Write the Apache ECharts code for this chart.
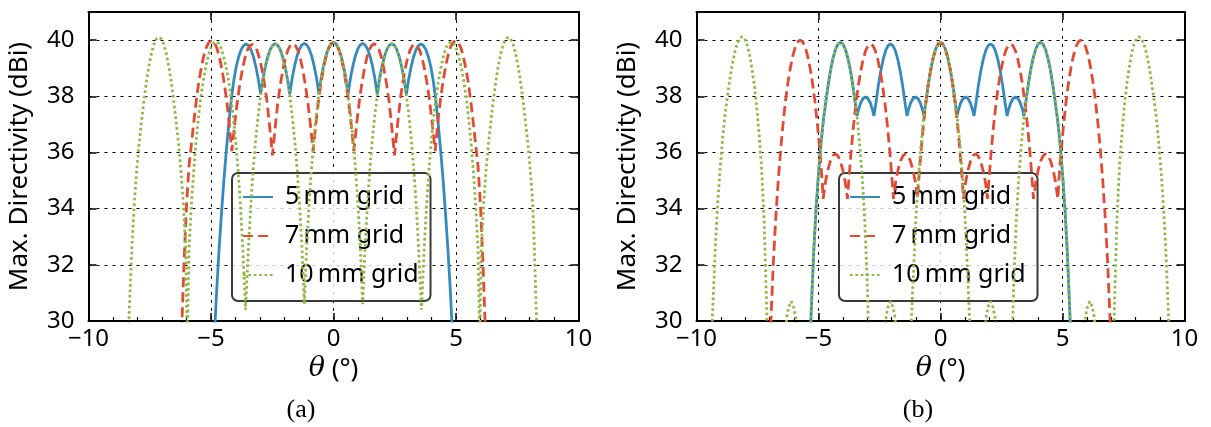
<!DOCTYPE html>
<html>
<head>
<meta charset="utf-8">
<script src="https://cdn.jsdelivr.net/npm/echarts@6/dist/echarts.min.js"></script>
<style>
  html, body { margin: 0; padding: 0; background: #fff; }
  #chart { width: 1211px; height: 427px; }
</style>
</head>
<body>
<div id="chart"></div>
<script>
// Series labels and tick labels
const seriesNames = ['5\u2009mm grid', '7\u2009mm grid', '10\u2009mm grid'];
const xTickLabels = { '-10': '\u221210', '-5': '\u22125', '0': '0', '5': '5', '10': '10' };
const yTickLabels = ['30', '32', '34', '36', '38', '40'];
const panelLabels = ['(a)', '(b)'];

// Max. directivity (dBi) versus steering angle theta (deg), panel (a)
const a5mm = [[-4.87,29.3],[-4.77,31.06],[-4.67,32.56],[-4.57,33.86],[-4.47,35.06],[-4.37,36.11],[-4.27,37.06],[-4.17,37.91],[-4.07,38.56],[-3.97,39.06],[-3.87,39.41],[-3.77,39.66],[-3.67,39.81],[-3.57,39.86],[-3.47,39.81],[-3.37,39.66],[-3.27,39.41],[-3.17,39.06],[-3.07,38.61],[-2.975,38.08],
[-2.88,38.62],[-2.78,39.07],[-2.68,39.42],[-2.58,39.67],[-2.48,39.82],[-2.38,39.87],[-2.28,39.82],[-2.18,39.67],[-2.08,39.42],[-1.98,39.07],[-1.88,38.62],[-1.785,38.08],
[-1.69,38.63],[-1.59,39.08],[-1.49,39.43],[-1.39,39.68],[-1.29,39.83],[-1.19,39.88],[-1.09,39.83],[-0.99,39.68],[-0.89,39.43],[-0.79,39.08],[-0.69,38.63],[-0.595,38.08],
[-0.5,38.67],[-0.4,39.12],[-0.3,39.47],[-0.2,39.72],[-0.1,39.87],[0,39.92],[0.1,39.87],[0.2,39.72],[0.3,39.47],[0.4,39.12],[0.5,38.67],[0.595,38.08],
[0.69,38.63],[0.79,39.08],[0.89,39.43],[0.99,39.68],[1.09,39.83],[1.19,39.88],[1.29,39.83],[1.39,39.68],[1.49,39.43],[1.59,39.08],[1.69,38.63],[1.785,38.08],
[1.88,38.62],[1.98,39.07],[2.08,39.42],[2.18,39.67],[2.28,39.82],[2.38,39.87],[2.48,39.82],[2.58,39.67],[2.68,39.42],[2.78,39.07],[2.88,38.62],[2.975,38.08],
[3.07,38.61],[3.17,39.06],[3.27,39.41],[3.37,39.66],[3.47,39.81],[3.57,39.86],[3.67,39.81],[3.77,39.66],[3.87,39.41],[3.97,39.06],[4.07,38.56],[4.17,37.91],[4.27,37.06],[4.37,36.11],[4.47,35.06],[4.57,33.86],[4.67,32.56],[4.77,31.06],[4.87,29.3]];

const a7mm = [[-6.2,29.6],[-6.1,32.1],[-6.0,34.1],[-5.9,35.5],[-5.8,36.3],[-5.7,37.1],[-5.6,37.85],[-5.5,38.5],[-5.4,39.0],[-5.3,39.42],[-5.2,39.72],[-5.1,39.9],[-4.98,39.98],[-4.88,39.92],[-4.78,39.76],[-4.68,39.48],[-4.58,39.08],[-4.48,38.58],[-4.38,37.98],[-4.28,37.24],[-4.15,36.05],
[-4.02,37.11],[-3.92,37.85],[-3.82,38.45],[-3.72,38.95],[-3.62,39.35],[-3.52,39.63],[-3.42,39.79],[-3.32,39.85],[-3.22,39.79],[-3.12,39.63],[-3.02,39.35],[-2.92,38.95],[-2.82,38.45],[-2.72,37.85],[-2.62,37.05],[-2.49,35.9],
[-2.36,37.07],[-2.26,37.87],[-2.16,38.47],[-2.06,38.97],[-1.96,39.37],[-1.86,39.65],[-1.76,39.81],[-1.66,39.87],[-1.56,39.81],[-1.46,39.65],[-1.36,39.37],[-1.26,38.97],[-1.16,38.47],[-1.06,37.87],[-0.96,37.13],[-0.83,36.05],
[-0.7,37.18],[-0.6,37.92],[-0.5,38.52],[-0.4,39.02],[-0.3,39.42],[-0.2,39.7],[-0.1,39.86],[0,39.92],[0.1,39.86],[0.2,39.7],[0.3,39.42],[0.4,39.02],[0.5,38.52],[0.6,37.92],[0.7,37.18],
[0.83,36.05],[0.96,37.13],[1.06,37.87],[1.16,38.47],[1.26,38.97],[1.36,39.37],[1.46,39.65],[1.56,39.81],[1.66,39.87],[1.76,39.81],[1.86,39.65],[1.96,39.37],[2.06,38.97],[2.16,38.47],[2.26,37.87],[2.36,37.07],
[2.49,35.9],[2.62,37.05],[2.72,37.85],[2.82,38.45],[2.92,38.95],[3.02,39.35],[3.12,39.63],[3.22,39.79],[3.32,39.85],[3.42,39.79],[3.52,39.63],[3.62,39.35],[3.72,38.95],[3.82,38.45],[3.92,37.85],[4.02,37.11],
[4.15,36.05],[4.28,37.24],[4.38,37.98],[4.48,38.58],[4.58,39.08],[4.68,39.48],[4.78,39.76],[4.88,39.92],[4.98,39.98],[5.1,39.9],[5.2,39.72],[5.3,39.42],[5.4,39.0],[5.5,38.5],[5.6,37.85],[5.7,37.1],[5.8,36.3],[5.9,35.5],[6.0,34.1],[6.1,32.1],[6.2,29.6]];

const a10mm = [[-8.38,29.3],[-8.33,30.5],[-8.23,32.6],[-8.13,34.2],[-8.03,35.4],[-7.93,36.35],[-7.83,37.15],[-7.73,37.9],[-7.63,38.55],[-7.53,39.1],[-7.43,39.53],[-7.33,39.85],[-7.23,40.04],[-7.13,40.1],[-7.03,40.04],[-6.93,39.85],[-6.83,39.53],[-6.73,39.1],[-6.63,38.55],[-6.53,37.9],[-6.43,37.15],[-6.33,36.35],[-6.23,35.4],[-6.13,34.2],[-6.03,32.6],[-5.97,29.0],
[-5.9,32.54],[-5.8,34.14],[-5.7,35.44],[-5.6,36.49],[-5.5,37.34],[-5.4,38.06],[-5.3,38.64],[-5.2,39.1],[-5.1,39.47],[-5.0,39.74],[-4.9,39.89],[-4.8,39.94],[-4.7,39.89],[-4.6,39.74],[-4.5,39.47],[-4.4,39.1],[-4.3,38.64],[-4.2,38.06],[-4.1,37.34],[-4.0,36.49],[-3.9,35.44],[-3.8,34.14],[-3.7,32.54],[-3.59,30.4],
[-3.48,32.47],[-3.38,34.07],[-3.28,35.37],[-3.18,36.42],[-3.08,37.27],[-2.98,37.99],[-2.88,38.57],[-2.78,39.03],[-2.68,39.4],[-2.58,39.67],[-2.48,39.82],[-2.38,39.87],[-2.28,39.82],[-2.18,39.67],[-2.08,39.4],[-1.98,39.03],[-1.88,38.57],[-1.78,37.99],[-1.68,37.27],[-1.58,36.42],[-1.48,35.37],[-1.38,34.07],[-1.28,32.47],[-1.19,30.6],
[-1.1,32.52],[-1.0,34.12],[-0.9,35.42],[-0.8,36.47],[-0.7,37.32],[-0.6,38.04],[-0.5,38.62],[-0.4,39.08],[-0.3,39.45],[-0.2,39.72],[-0.1,39.87],[0,39.92],[0.1,39.87],[0.2,39.72],[0.3,39.45],[0.4,39.08],[0.5,38.62],[0.6,38.04],[0.7,37.32],[0.8,36.47],[0.9,35.42],[1.0,34.12],[1.1,32.52],
[1.19,30.6],[1.28,32.47],[1.38,34.07],[1.48,35.37],[1.58,36.42],[1.68,37.27],[1.78,37.99],[1.88,38.57],[1.98,39.03],[2.08,39.4],[2.18,39.67],[2.28,39.82],[2.38,39.87],[2.48,39.82],[2.58,39.67],[2.68,39.4],[2.78,39.03],[2.88,38.57],[2.98,37.99],[3.08,37.27],[3.18,36.42],[3.28,35.37],[3.38,34.07],[3.48,32.47],
[3.59,30.4],[3.7,32.54],[3.8,34.14],[3.9,35.44],[4.0,36.49],[4.1,37.34],[4.2,38.06],[4.3,38.64],[4.4,39.1],[4.5,39.47],[4.6,39.74],[4.7,39.89],[4.8,39.94],[4.9,39.89],[5.0,39.74],[5.1,39.47],[5.2,39.1],[5.3,38.64],[5.4,38.06],[5.5,37.34],[5.6,36.49],[5.7,35.44],[5.8,34.14],[5.9,32.54],
[5.97,29.0],[6.03,32.6],[6.13,34.2],[6.23,35.4],[6.33,36.35],[6.43,37.15],[6.53,37.9],[6.63,38.55],[6.73,39.1],[6.83,39.53],[6.93,39.85],[7.03,40.04],[7.13,40.1],[7.23,40.04],[7.33,39.85],[7.43,39.53],[7.53,39.1],[7.63,38.55],[7.73,37.9],[7.83,37.15],[7.93,36.35],[8.03,35.4],[8.13,34.2],[8.2,32.6],[8.27,30.5],[8.32,29.3]];

// Panel (b)
const b5mm = [[-5.35,29.2],[-5.3,30.3],[-5.2,32.4],[-5.1,34.0],[-5.0,35.25],[-4.9,36.3],[-4.8,37.15],[-4.7,37.8],[-4.6,38.43],[-4.5,38.95],[-4.4,39.37],[-4.3,39.68],[-4.2,39.86],[-4.1,39.92],[-4.0,39.86],[-3.9,39.68],[-3.8,39.37],[-3.7,38.95],[-3.6,38.43],[-3.5,37.8],[-3.42,37.3],
[-3.375,37.48],[-3.275,37.76],[-3.175,37.92],[-3.075,37.98],[-2.975,37.92],[-2.875,37.76],[-2.775,37.48],[-2.73,37.3],
[-2.65,37.74],[-2.55,38.37],[-2.45,38.89],[-2.35,39.31],[-2.25,39.62],[-2.15,39.8],[-2.05,39.86],[-1.95,39.8],[-1.85,39.62],[-1.75,39.31],[-1.65,38.89],[-1.55,38.37],[-1.45,37.74],[-1.37,37.3],
[-1.325,37.48],[-1.225,37.76],[-1.125,37.92],[-1.025,37.98],[-0.925,37.92],[-0.825,37.76],[-0.725,37.48],[-0.68,37.3],
[-0.6,37.8],[-0.5,38.43],[-0.4,38.95],[-0.3,39.37],[-0.2,39.68],[-0.1,39.86],[0,39.92],[0.1,39.86],[0.2,39.68],[0.3,39.37],[0.4,38.95],[0.5,38.43],[0.6,37.8],
[0.68,37.3],[0.725,37.48],[0.825,37.76],[0.925,37.92],[1.025,37.98],[1.125,37.92],[1.225,37.76],[1.325,37.48],[1.37,37.3],
[1.45,37.74],[1.55,38.37],[1.65,38.89],[1.75,39.31],[1.85,39.62],[1.95,39.8],[2.05,39.86],[2.15,39.8],[2.25,39.62],[2.35,39.31],[2.45,38.89],[2.55,38.37],[2.65,37.74],
[2.73,37.3],[2.775,37.48],[2.875,37.76],[2.975,37.92],[3.075,37.98],[3.175,37.92],[3.275,37.76],[3.375,37.48],[3.42,37.3],
[3.5,37.8],[3.6,38.43],[3.7,38.95],[3.8,39.37],[3.9,39.68],[4.0,39.86],[4.1,39.92],[4.2,39.86],[4.3,39.68],[4.4,39.37],[4.5,38.95],[4.6,38.43],[4.7,37.8],[4.8,37.15],[4.9,36.3],[5.0,35.25],[5.1,34.0],[5.2,32.4],[5.3,30.3],[5.35,29.2]];

const b7mm = [[-6.99,29.3],[-6.95,30.0],[-6.85,32.1],[-6.75,33.7],[-6.65,35.0],[-6.55,36.1],[-6.45,37.05],[-6.35,37.85],[-6.25,38.5],[-6.15,39.03],[-6.05,39.45],[-5.95,39.76],[-5.85,39.94],[-5.75,40.0],[-5.65,39.94],[-5.55,39.76],[-5.45,39.45],[-5.35,39.03],[-5.25,38.5],[-5.15,37.85],[-5.05,37.05],[-4.95,36.1],[-4.85,35.0],[-4.81,34.35],
[-4.71,34.97],[-4.61,35.4],[-4.51,35.7],[-4.41,35.89],[-4.31,35.95],[-4.21,35.89],[-4.11,35.7],[-4.01,35.4],[-3.91,34.97],[-3.81,34.35],
[-3.77,34.86],[-3.67,35.96],[-3.57,36.91],[-3.47,37.71],[-3.37,38.36],[-3.27,38.89],[-3.17,39.31],[-3.07,39.62],[-2.97,39.8],[-2.87,39.86],[-2.77,39.8],[-2.67,39.62],[-2.57,39.31],[-2.47,38.89],[-2.37,38.36],[-2.27,37.71],[-2.17,36.91],[-2.07,35.96],[-1.97,34.86],[-1.93,34.35],
[-1.835,34.97],[-1.735,35.4],[-1.635,35.7],[-1.535,35.89],[-1.435,35.95],[-1.335,35.89],[-1.235,35.7],[-1.135,35.4],[-1.035,34.97],[-0.94,34.35],
[-0.9,34.92],[-0.8,36.02],[-0.7,36.97],[-0.6,37.77],[-0.5,38.42],[-0.4,38.95],[-0.3,39.37],[-0.2,39.68],[-0.1,39.86],[0,39.92],[0.1,39.86],[0.2,39.68],[0.3,39.37],[0.4,38.95],[0.5,38.42],[0.6,37.77],[0.7,36.97],[0.8,36.02],[0.9,34.92],
[0.94,34.35],[1.035,34.97],[1.135,35.4],[1.235,35.7],[1.335,35.89],[1.435,35.95],[1.535,35.89],[1.635,35.7],[1.735,35.4],[1.835,34.97],[1.93,34.35],
[1.97,34.86],[2.07,35.96],[2.17,36.91],[2.27,37.71],[2.37,38.36],[2.47,38.89],[2.57,39.31],[2.67,39.62],[2.77,39.8],[2.87,39.86],[2.97,39.8],[3.07,39.62],[3.17,39.31],[3.27,38.89],[3.37,38.36],[3.47,37.71],[3.57,36.91],[3.67,35.96],[3.77,34.86],[3.81,34.35],
[3.91,34.97],[4.01,35.4],[4.11,35.7],[4.21,35.89],[4.31,35.95],[4.41,35.89],[4.51,35.7],[4.61,35.4],[4.71,34.97],[4.81,34.35],
[4.85,35.0],[4.95,36.1],[5.05,37.05],[5.15,37.85],[5.25,38.5],[5.35,39.03],[5.45,39.45],[5.55,39.76],[5.65,39.94],[5.75,40.0],[5.85,39.94],[5.95,39.76],[6.05,39.45],[6.15,39.03],[6.25,38.5],[6.35,37.85],[6.45,37.05],[6.55,36.1],[6.65,35.0],[6.75,33.7],[6.85,32.1],[6.95,30.0],[6.99,29.3]];

const b10mm = [[-9.38,29.4],[-9.33,30.5],[-9.23,32.6],[-9.13,34.2],[-9.03,35.45],[-8.93,36.5],[-8.83,37.35],[-8.73,38.0],[-8.63,38.63],[-8.53,39.15],[-8.43,39.57],[-8.33,39.88],[-8.23,40.06],[-8.13,40.12],[-8.03,40.05],[-7.93,39.85],[-7.83,39.5],[-7.73,39.0],[-7.63,38.4],[-7.53,37.6],[-7.43,36.6],[-7.33,35.4],[-7.23,33.6],[-7.13,30.6],[-7.09,29.3],
[-6.36,29.5],[-6.3,30.15],[-6.22,30.5],[-6.12,30.7],[-6.02,30.5],[-5.94,30.15],[-5.88,29.5],
[-5.35,29.2],[-5.3,30.3],[-5.2,32.4],[-5.1,34.0],[-5.0,35.25],[-4.9,36.3],[-4.8,37.15],[-4.7,37.8],[-4.6,38.43],[-4.5,38.95],[-4.4,39.37],[-4.3,39.68],[-4.2,39.86],[-4.1,39.92],[-4.0,39.86],[-3.9,39.68],[-3.8,39.37],[-3.7,38.95],[-3.6,38.43],[-3.5,37.8],[-3.4,37.1],[-3.3,36.15],[-3.2,35.0],[-3.1,33.5],[-3.0,31.3],[-2.95,29.6],
[-2.29,29.5],[-2.23,30.15],[-2.15,30.5],[-2.05,30.7],[-1.95,30.5],[-1.87,30.15],[-1.81,29.5],
[-1.22,29.5],[-1.1,31.9],[-1.0,33.8],[-0.9,35.15],[-0.8,36.25],[-0.7,37.15],[-0.6,37.8],[-0.5,38.43],[-0.4,38.95],[-0.3,39.37],[-0.2,39.68],[-0.1,39.86],[0,39.92],[0.1,39.86],[0.2,39.68],[0.3,39.37],[0.4,38.95],[0.5,38.43],[0.6,37.8],[0.7,37.15],[0.8,36.25],[0.9,35.15],[1.0,33.8],[1.1,31.9],[1.22,29.5],
[1.81,29.5],[1.87,30.15],[1.95,30.5],[2.05,30.7],[2.15,30.5],[2.23,30.15],[2.29,29.5],
[2.95,29.6],[3.0,31.3],[3.1,33.5],[3.2,35.0],[3.3,36.15],[3.4,37.1],[3.5,37.8],[3.6,38.43],[3.7,38.95],[3.8,39.37],[3.9,39.68],[4.0,39.86],[4.1,39.92],[4.2,39.86],[4.3,39.68],[4.4,39.37],[4.5,38.95],[4.6,38.43],[4.7,37.8],[4.8,37.15],[4.9,36.3],[5.0,35.25],[5.1,34.0],[5.2,32.4],[5.3,30.3],[5.35,29.2],
[5.88,29.5],[5.94,30.15],[6.02,30.5],[6.12,30.7],[6.22,30.5],[6.3,30.15],[6.36,29.5],
[7.09,29.3],[7.13,30.6],[7.23,33.6],[7.33,35.4],[7.43,36.6],[7.53,37.6],[7.63,38.4],[7.73,39.0],[7.83,39.5],[7.93,39.85],[8.03,40.05],[8.13,40.12],[8.23,40.06],[8.33,39.88],[8.43,39.57],[8.53,39.15],[8.63,38.63],[8.73,38.0],[8.83,37.35],[8.93,36.5],[9.03,35.45],[9.13,34.2],[9.23,32.6],[9.33,30.5],[9.38,29.4]];

const panelData = [[a5mm, a7mm, a10mm], [b5mm, b7mm, b10mm]];

// Styles
const colors = ['#348ABD', '#E24A33', '#8EBA42'];
const dashes = ['solid', [10, 5], [2.6, 2.8]];
const FONT = '"Noto Sans", "Open Sans", sans-serif';
const plotLefts = [88.5, 696.5];
const plotWidths = [490, 488];
const PLOT_TOP = 12, PLOT_H = 309;
const frameLine = { show: true, onZero: false, lineStyle: { color: '#000', width: 2 } };
const gridDots = { show: true, lineStyle: { color: '#000', width: 1, type: [3, 5] } };
const majorTick = { inside: true, length: 8, lineStyle: { color: '#000', width: 1.5 } };

const grid = plotLefts.map((l, i) => ({ left: l, top: PLOT_TOP, width: plotWidths[i], height: PLOT_H, containLabel: false }));

const xAxis = [], yAxis = [];
plotLefts.forEach((l, i) => {
  const xBase = { gridIndex: i, type: 'value', min: -10, max: 10, interval: 5 };
  const yBase = { gridIndex: i, type: 'value', min: 30, max: 41, interval: 2 };
  xAxis.push(Object.assign({}, xBase, {
    position: 'bottom',
    axisLine: frameLine,
    axisTick: majorTick,
    minorTick: { show: true, splitNumber: 5, length: 4, lineStyle: { color: '#000', width: 1.2 } },
    splitLine: gridDots,
    axisLabel: { color: '#000', fontSize: 24, fontFamily: FONT, margin: 6,
      formatter: v => xTickLabels[String(v)] || '' },
    name: '{t|\u03b8} (\u00b0)',
    nameLocation: 'middle',
    nameGap: 33,
    nameTextStyle: { color: '#000', fontSize: 26, fontFamily: FONT,
      rich: { t: { fontSize: 27, fontStyle: 'italic', fontFamily: '"DejaVu Serif", serif', color: '#000' } } }
  }));
  xAxis.push(Object.assign({}, xBase, {
    position: 'top',
    axisLine: frameLine,
    axisTick: majorTick,
    splitLine: { show: false },
    axisLabel: { show: false }
  }));
  yAxis.push(Object.assign({}, yBase, {
    position: 'left',
    axisLine: frameLine,
    axisTick: majorTick,
    splitLine: gridDots,
    axisLabel: { color: '#000', fontSize: 24, fontFamily: FONT, margin: 14,
      formatter: v => yTickLabels.indexOf(String(v)) >= 0 ? String(v) : '' },
    name: 'Max. Directivity (dBi)',
    nameLocation: 'middle',
    nameGap: 56,
    nameRotate: 90,
    nameTextStyle: { color: '#000', fontSize: 26, fontFamily: FONT }
  }));
  yAxis.push(Object.assign({}, yBase, {
    position: 'right',
    axisLine: frameLine,
    axisTick: majorTick,
    splitLine: { show: false },
    axisLabel: { show: false }
  }));
});

const series = [];
panelData.forEach((curves, p) => {
  curves.forEach((pts, k) => {
    series.push({
      name: seriesNames[k],
      type: 'line',
      xAxisIndex: p * 2,
      yAxisIndex: p * 2,
      data: pts,
      symbol: 'none',
      clip: true,
      lineStyle: { color: colors[k], width: 2.8, type: dashes[k], cap: 'butt' },
      itemStyle: { color: colors[k] },
      z: 3 + k
    });
  });
});

const legend = plotLefts.map((l, i) => ({
  left: [232, 839][i],
  top: 173,
  orient: 'vertical',
  data: seriesNames,
  selectedMode: false,
  itemWidth: 30,
  itemHeight: 14,
  itemGap: 9,
  padding: [9, 12, 11, 10],
  backgroundColor: 'rgba(255,255,255,0.8)',
  borderColor: '#3a3a3a',
  borderWidth: 2,
  borderRadius: 6,
  itemStyle: { opacity: 0 },
  formatter: name => '{t|' + name + '}',
  textStyle: { color: '#000', fontSize: 25, fontFamily: FONT, lineHeight: 30,
    rich: { t: { fontSize: 25, fontFamily: FONT, color: '#000', lineHeight: 30, padding: [0, 0, 0, 7] } } }
}));

const chart = echarts.init(document.getElementById('chart'), null, { renderer: 'canvas' });
chart.setOption({
  animation: false,
  backgroundColor: '#fff',
  grid, xAxis, yAxis, series, legend,
  graphic: panelLabels.map((t, i) => ({
    type: 'text',
    x: [301, 918][i],
    y: 410,
    style: { text: t, fill: '#000', font: '26px "Liberation Serif", serif', textAlign: 'center', textVerticalAlign: 'middle' }
  }))
});
</script>
</body>
</html>
